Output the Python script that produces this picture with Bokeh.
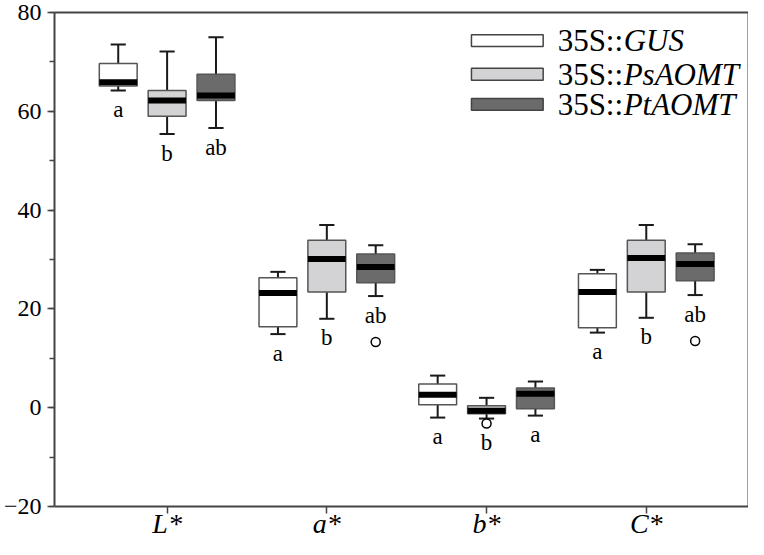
from bokeh.plotting import figure
from bokeh.models import ColumnDataSource, FixedTicker, SingleIntervalTicker, Range1d, LinearAxis
from bokeh.core.properties import value
from bokeh.embed import file_html
from bokeh.resources import INLINE

# ---------------- data ----------------
categories = ["L*", "a*", "b*", "C*"]
series = ["GUS", "PsAOMT", "PtAOMT"]
fills = ["#ffffff", "#d3d3d5", "#6b6b6b"]

whisk_hi = {"GUS": [73.5, 27.5, 6.5, 27.9],
            "PsAOMT": [72.1, 37.0, 2.0, 37.0],
            "PtAOMT": [75.0, 32.9, 5.3, 33.1]}
q3 = {"GUS": [69.7, 26.3, 4.8, 27.1],
      "PsAOMT": [64.2, 33.9, 0.4, 33.9],
      "PtAOMT": [67.5, 31.1, 4.0, 31.3]}
med = {"GUS": [65.9, 23.2, 2.6, 23.4],
       "PsAOMT": [62.2, 30.1, -0.6, 30.3],
       "PtAOMT": [63.2, 28.5, 2.8, 29.1]}
q1 = {"GUS": [65.1, 16.4, 0.6, 16.2],
      "PsAOMT": [59.0, 23.4, -1.2, 23.4],
      "PtAOMT": [62.2, 25.3, -0.2, 25.7]}
whisk_lo = {"GUS": [64.2, 14.9, -2.0, 15.2],
            "PsAOMT": [55.4, 18.0, -2.2, 18.2],
            "PtAOMT": [56.6, 22.6, -1.6, 22.8]}
letters = {"GUS": ["a", "a", "a", "a"],
           "PsAOMT": ["b", "b", "b", "b"],
           "PtAOMT": ["ab", "ab", "a", "ab"]}
# outliers: (category index, series, value)
outlier_cat = [1, 2, 3]
outlier_series = ["PtAOMT", "PsAOMT", "PtAOMT"]
outlier_val = [13.3, -3.2, 13.5]

y_ticks_interval = 20

# ---------------- layout constants ----------------
OFFSET = 0.306
BOX_W = 0.237
CAP_W = 0.095
FONT = "Liberation Serif"
AX_COL = "#444444"
Y0, Y1 = -20, 80
Y_PAD = 6.68   # room below the x axis (inside the frame) for the category names

p = figure(width=748, height=539, output_backend="svg", toolbar_location=None,
           x_range=Range1d(0.295, 4.64), y_range=Range1d(Y0 - Y_PAD, Y1),
           min_border_left=50, min_border_right=0, min_border_top=12, min_border_bottom=0)
p.background_fill_color = "white"
p.border_fill_color = "white"
p.grid.visible = False
p.outline_line_color = None

# x axis placed at y = -20
p.xaxis.fixed_location = Y0
p.xaxis.ticker = FixedTicker(ticks=[i + 1 for i in range(len(categories))])
p.xaxis.major_label_overrides = {i + 1: c for i, c in enumerate(categories)}
p.xaxis.major_label_text_font = FONT
p.xaxis.major_label_text_font_style = "italic"
p.xaxis.major_label_text_font_size = "28px"
p.xaxis.major_label_text_color = "black"
p.xaxis.major_label_standoff = -6
p.xaxis.major_tick_out = 7
p.xaxis.major_tick_in = 0
p.xaxis.minor_tick_line_color = None

p.yaxis.bounds = (Y0, Y1)
p.yaxis.ticker = SingleIntervalTicker(interval=y_ticks_interval, num_minor_ticks=2)
p.yaxis.major_label_text_font = FONT
p.yaxis.major_label_text_font_size = "24px"
p.yaxis.major_label_text_color = "black"
p.yaxis.major_label_standoff = 6
p.yaxis.major_tick_out = 7
p.yaxis.major_tick_in = 0
p.yaxis.minor_tick_out = 5
p.yaxis.minor_tick_in = 0
p.yaxis.minor_tick_line_color = AX_COL
p.yaxis.minor_tick_line_width = 1.5

for ax in (p.xaxis, p.yaxis):
    ax.axis_line_color = AX_COL
    ax.axis_line_width = 2
    ax.major_tick_line_color = AX_COL
    ax.major_tick_line_width = 1.5

# top and right frame lines (axes without ticks or labels)
frame_kw = dict(ticker=FixedTicker(ticks=[]), major_label_text_font_size="0px",
                major_label_standoff=0, major_tick_out=0, major_tick_in=0,
                minor_tick_out=0, minor_tick_in=0,
                axis_line_color=AX_COL, axis_line_width=2,
                major_tick_line_color=None, minor_tick_line_color=None)
p.add_layout(LinearAxis(**frame_kw), "above")
p.add_layout(LinearAxis(bounds=(Y0, Y1), **frame_kw), "right")

# boxes
for j, s in enumerate(series):
    xs = [i + 1 + (j - 1) * OFFSET for i in range(len(categories))]
    src = ColumnDataSource(dict(x=xs, hi=whisk_hi[s], q3=q3[s], med=med[s], q1=q1[s],
                                lo=whisk_lo[s], lab=letters[s],
                                x0=[x - CAP_W / 2 for x in xs], x1=[x + CAP_W / 2 for x in xs],
                                m0=[x - BOX_W / 2 for x in xs], m1=[x + BOX_W / 2 for x in xs]))
    p.segment(x0="x", y0="q3", x1="x", y1="hi", source=src, line_color="#1a1a1a", line_width=2)
    p.segment(x0="x", y0="q1", x1="x", y1="lo", source=src, line_color="#1a1a1a", line_width=2)
    p.segment(x0="x0", y0="hi", x1="x1", y1="hi", source=src, line_color="#1a1a1a", line_width=2)
    p.segment(x0="x0", y0="lo", x1="x1", y1="lo", source=src, line_color="#1a1a1a", line_width=2)
    p.vbar(x="x", width=BOX_W, top="q3", bottom="q1", source=src,
           fill_color=fills[j], line_color="#555555", line_width=1.5)
    p.segment(x0="m0", y0="med", x1="m1", y1="med", source=src,
              line_color="black", line_width=6, line_cap="butt")

    # letter anchors: whisker bottom, or a close outlier below it
    anchors = list(whisk_lo[s])
    for ci, os_, ov in zip(outlier_cat, outlier_series, outlier_val):
        if os_ == s and whisk_lo[s][ci] - 4 < ov < whisk_lo[s][ci]:
            anchors[ci] = ov
    src.data["anchor"] = anchors
    p.text(x="x", y="anchor", text="lab", source=src, text_font=value(FONT),
           text_font_size="23px", text_align="center", text_baseline="alphabetic",
           y_offset=19, text_color="black")

# outliers
ox = [outlier_cat[k] + 1 + (series.index(outlier_series[k]) - 1) * OFFSET
      for k in range(len(outlier_val))]
p.scatter(x=ox, y=outlier_val, size=9, marker="circle", fill_color="white",
          line_color="black", line_width=1.5)

# legend (manual, to allow italic gene names)
LEG_X = 3.13
LEG_W = 0.449
LEG_H = 2.4
LEG_Y = [74.3, 67.5, 61.4]
TXT_X = 3.445
p.rect(x=[LEG_X] * 3, y=LEG_Y, width=LEG_W, height=LEG_H, fill_color=fills,
       line_color="#444444", line_width=1.5)
p.text(x=[TXT_X] * 3, y=LEG_Y, text=["35S::"] * 3, text_font=value(FONT),
       text_font_size="31px", text_align="left", text_baseline="middle", text_color="black")
p.text(x=[TXT_X] * 3, y=LEG_Y, text=series, text_font=value(FONT), text_font_style="italic",
       text_font_size="31px", text_align="left", text_baseline="middle", text_color="black",
       x_offset=66)

open("out.html", "w").write(file_html(p, INLINE))
